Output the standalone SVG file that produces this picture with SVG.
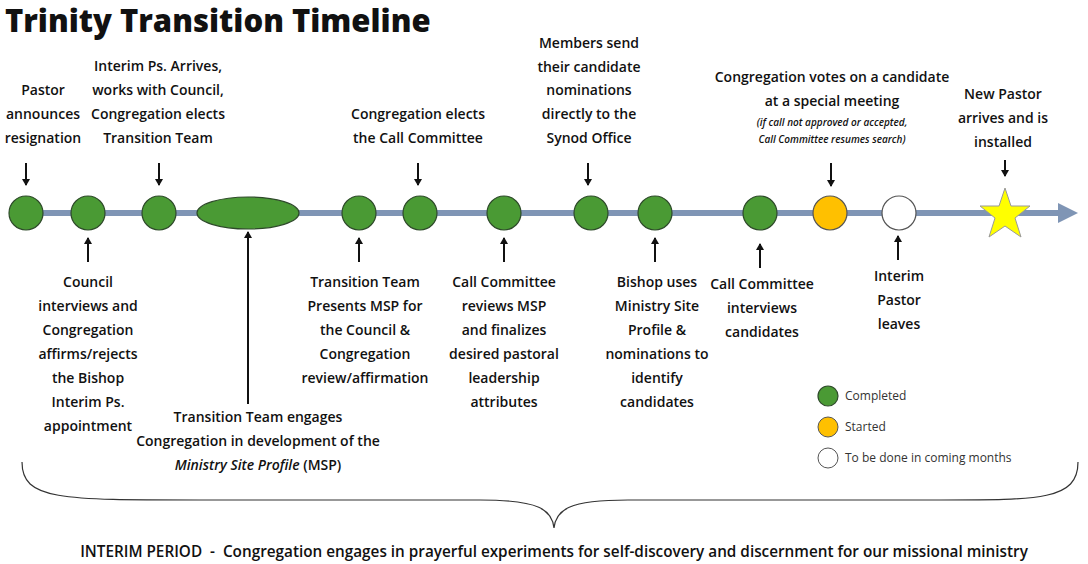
<svg xmlns="http://www.w3.org/2000/svg" width="1088" height="564" viewBox="0 0 1088 564">
<style>
text{font-family:"Open Sans","Noto Sans",sans-serif;fill:#111}
.l{font-size:14px;font-weight:600;text-anchor:middle}
.s{font-size:10px;font-style:italic;font-weight:600;text-anchor:middle}
.g{fill:#4a9a34;stroke:#2e4a2a;stroke-width:1.2}
.a{stroke:#111;stroke-width:2;fill:none;marker-end:url(#h)}
.lg{font-size:12px;fill:#333}
</style>
<defs><marker id="h" markerWidth="8" markerHeight="8" refX="6" refY="4" orient="auto" markerUnits="userSpaceOnUse"><path d="M0,0 L7,4 L0,8z" fill="#111"/></marker></defs>
<rect width="1088" height="564" fill="#fff"/>
<text x="5" y="32" style="font-size:31px;font-weight:800">Trinity Transition Timeline</text>
<g id="timeline">
<line x1="10" y1="213" x2="1062" y2="213" stroke="#7f95b5" stroke-width="6"/>
<path d="M1058,203 L1078,213 L1058,223z" fill="#7f95b5"/>
</g>
<g id="connectors">
<line class="a" x1="26" y1="163" x2="26" y2="185"/>
<line class="a" x1="159" y1="163" x2="159" y2="185"/>
<line class="a" x1="418" y1="163" x2="418" y2="185"/>
<line class="a" x1="588" y1="163" x2="588" y2="185"/>
<line class="a" x1="831" y1="163" x2="831" y2="186"/>
<line class="a" x1="1005" y1="160" x2="1005" y2="176"/>
<line class="a" x1="88" y1="262" x2="88" y2="238"/>
<line class="a" x1="248" y1="404" x2="248" y2="232"/>
<line class="a" x1="359" y1="262" x2="359" y2="238"/>
<line class="a" x1="504" y1="262" x2="504" y2="238"/>
<line class="a" x1="655" y1="262" x2="655" y2="238"/>
<line class="a" x1="760" y1="268" x2="760" y2="244"/>
<line class="a" x1="898" y1="260" x2="898" y2="236"/>
</g>
<g id="n1"><circle class="g" cx="26" cy="213" r="17"/><text class="l"><tspan x="43" y="95">Pastor</tspan><tspan x="43" y="119">announces</tspan><tspan x="43" y="143">resignation</tspan></text></g>
<g id="n2"><circle class="g" cx="88" cy="213" r="17"/><text class="l"><tspan x="88" y="287">Council</tspan><tspan x="88" y="311">interviews and</tspan><tspan x="88" y="335">Congregation</tspan><tspan x="88" y="359">affirms/rejects</tspan><tspan x="88" y="383">the Bishop</tspan><tspan x="88" y="407">Interim Ps.</tspan><tspan x="88" y="431">appointment</tspan></text></g>
<g id="n3"><circle class="g" cx="159" cy="213" r="17"/><text class="l"><tspan x="158" y="71">Interim Ps. Arrives,</tspan><tspan x="158" y="95">works with Council,</tspan><tspan x="158" y="119">Congregation elects</tspan><tspan x="158" y="143">Transition Team</tspan></text></g>
<g id="n4"><ellipse class="g" cx="248" cy="213" rx="51" ry="16"/><text class="l"><tspan x="258" y="422">Transition Team engages</tspan><tspan x="258" y="446">Congregation in development of the</tspan><tspan x="258" y="470"><tspan font-style="italic">Ministry Site Profile</tspan> (MSP)</tspan></text></g>
<g id="n5"><circle class="g" cx="359" cy="213" r="17"/><text class="l"><tspan x="365" y="287">Transition Team</tspan><tspan x="365" y="311">Presents MSP for</tspan><tspan x="365" y="335">the Council &amp;</tspan><tspan x="365" y="359">Congregation</tspan><tspan x="365" y="383">review/affirmation</tspan></text></g>
<g id="n6"><circle class="g" cx="420" cy="213" r="17"/><text class="l"><tspan x="418" y="119">Congregation elects</tspan><tspan x="418" y="143">the Call Committee</tspan></text></g>
<g id="n7"><circle class="g" cx="504" cy="213" r="17"/><text class="l"><tspan x="504" y="287">Call Committee</tspan><tspan x="504" y="311">reviews MSP</tspan><tspan x="504" y="335">and finalizes</tspan><tspan x="504" y="359">desired pastoral</tspan><tspan x="504" y="383">leadership</tspan><tspan x="504" y="407">attributes</tspan></text></g>
<g id="n8"><circle class="g" cx="591" cy="213" r="17"/><text class="l"><tspan x="589" y="48">Members send</tspan><tspan x="589" y="72">their candidate</tspan><tspan x="589" y="95">nominations</tspan><tspan x="589" y="119">directly to the</tspan><tspan x="589" y="143">Synod Office</tspan></text></g>
<g id="n9"><circle class="g" cx="655" cy="213" r="17"/><text class="l"><tspan x="657" y="287">Bishop uses</tspan><tspan x="657" y="311">Ministry Site</tspan><tspan x="657" y="335">Profile &amp;</tspan><tspan x="657" y="359">nominations to</tspan><tspan x="657" y="383">identify</tspan><tspan x="657" y="407">candidates</tspan></text></g>
<g id="n10"><circle class="g" cx="760" cy="213" r="17"/><text class="l"><tspan x="762" y="289">Call Committee</tspan><tspan x="762" y="313">interviews</tspan><tspan x="762" y="337">candidates</tspan></text></g>
<g id="n11"><circle cx="830" cy="213" r="17" fill="#ffc000" stroke="#555" stroke-width="1.2"/><text class="l"><tspan x="832" y="82">Congregation votes on a candidate</tspan><tspan x="832" y="106">at a special meeting</tspan></text><text class="s"><tspan x="832" y="126">(if call not approved or accepted,</tspan><tspan x="832" y="143">Call Committee resumes search)</tspan></text></g>
<g id="n12"><circle cx="899" cy="213" r="17" fill="#fff" stroke="#555" stroke-width="1.2"/><text class="l"><tspan x="899" y="281">Interim</tspan><tspan x="899" y="305">Pastor</tspan><tspan x="899" y="329">leaves</tspan></text></g>
<g id="n13"><polygon points="1005,188 1011,206 1030,206 1015,218 1021,237 1005,226 989,237 995,218 980,206 999,206" fill="#ffff00" stroke="#999" stroke-width="1"/><text class="l"><tspan x="1003" y="99">New Pastor</tspan><tspan x="1003" y="123">arrives and is</tspan><tspan x="1003" y="147">installed</tspan></text></g>
<g id="legend">
<circle class="g" cx="828" cy="396" r="10"/><text class="lg" x="845" y="400">Completed</text>
<circle cx="828" cy="427" r="10" fill="#ffc000" stroke="#555"/><text class="lg" x="845" y="431">Started</text>
<circle cx="828" cy="458" r="10" fill="#fff" stroke="#555"/><text class="lg" x="845" y="462">To be done in coming months</text>
</g>
<g id="brace"><path d="M22,462 C22,500 60,500 200,500 L480,500 C540,500 552,510 554,528 C556,510 568,500 628,500 L940,500 C1040,500 1078,500 1078,462" fill="none" stroke="#333" stroke-width="1.2"/></g>
<text x="554" y="557" xml:space="preserve" style="font-size:15.3px;font-weight:600;text-anchor:middle">INTERIM PERIOD  -  Congregation engages in prayerful experiments for self-discovery and discernment for our missional ministry</text>
</svg>
